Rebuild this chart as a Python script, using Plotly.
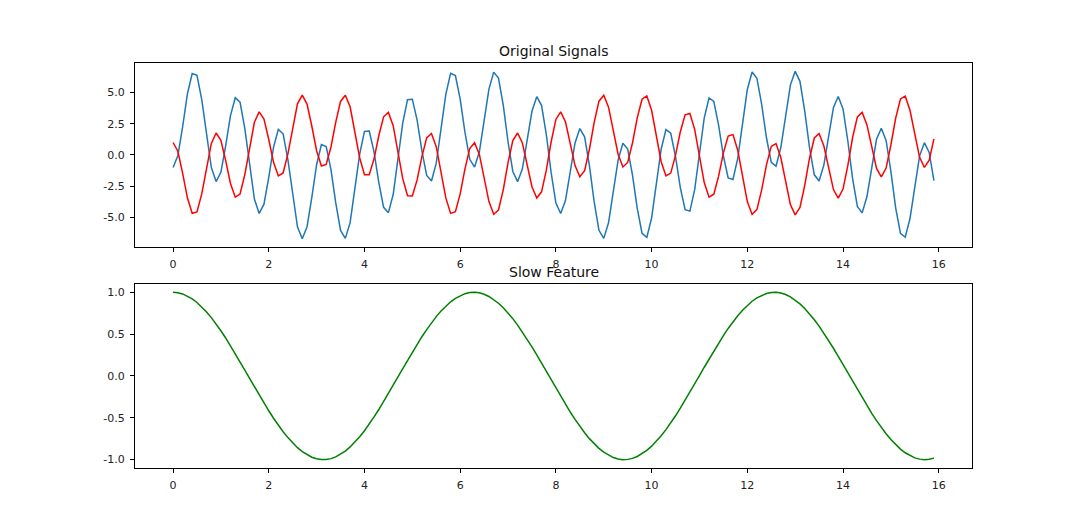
import plotly.graph_objects as go
from plotly.subplots import make_subplots

# sampling grid (time axis), 0.0 .. 15.9
t = [round(0.1 * i, 1) for i in range(160)]

signal_blue = [
    -1.00, -0.07, 2.26, 4.89, 6.53, 6.38, 4.44, 1.55, -1.01, -2.13,
    -1.39, 0.75, 3.16, 4.59, 4.23, 2.11, -0.90, -3.53, -4.68, -3.94,
    -1.80, 0.62, 2.05, 1.70, -0.37, -3.28, -5.76, -6.71, -5.75, -3.39,
    -0.78, 0.83, 0.68, -1.18, -3.84, -6.04, -6.68, -5.42, -2.79, 0.07,
    1.89, 1.92, 0.25, -2.21, -4.19, -4.62, -3.17, -0.38, 2.57, 4.43,
    4.47, 2.80, 0.33, -1.64, -2.08, -0.66, 2.05, 4.86, 6.54, 6.37,
    4.48, 1.81, -0.35, -0.97, 0.24, 2.72, 5.26, 6.64, 6.16, 3.99,
    1.06, -1.32, -2.14, -1.11, 1.17, 3.50, 4.67, 3.98, 1.64, -1.40,
    -3.85, -4.69, -3.65, -1.37, 0.96, 2.12, 1.46, -0.83, -3.76, -6.04,
    -6.68, -5.43, -2.94, -0.41, 0.94, 0.47, -1.60, -4.28, -6.27, -6.60,
    -5.05, -2.29, 0.48, 2.03, 1.74, -0.14, -2.61, -4.39, -4.50, -2.77,
    0.14, 2.98, 4.57, 4.29, 2.40, -0.07, -1.84, -1.96, -0.27, 2.55,
    5.25, 6.65, 6.15, 4.05, 1.38, -0.58, -0.89, 0.60, 3.18, 5.60,
    6.70, 5.90, 3.51, 0.59, -1.59, -2.09, -0.79, 1.59, 3.81, 4.69,
    3.69, 1.14, -1.89, -4.12, -4.64, -3.33, -0.95, 1.26, 2.14, 1.17,
    -1.31, -4.23, -6.28, -6.59, -5.07, -2.48, -0.07, 0.99, 0.21, -2.05,
]

signal_red = [
    1.00, 0.30, -1.45, -3.43, -4.67, -4.56, -3.12, -0.97, 0.93, 1.76,
    1.18, -0.45, -2.28, -3.38, -3.13, -1.57, 0.67, 2.62, 3.45, 2.88,
    1.24, -0.59, -1.68, -1.44, 0.09, 2.26, 4.10, 4.80, 4.08, 2.30,
    0.34, -0.88, -0.76, 0.64, 2.64, 4.29, 4.79, 3.86, 1.89, -0.23,
    -1.58, -1.58, -0.31, 1.56, 3.06, 3.41, 2.35, 0.29, -1.90, -3.27,
    -3.28, -2.00, -0.13, 1.37, 1.72, 0.67, -1.34, -3.44, -4.68, -4.54,
    -3.12, -1.11, 0.51, 0.98, 0.07, -1.79, -3.71, -4.75, -4.41, -2.79,
    -0.61, 1.16, 1.76, 0.96, -0.77, -2.54, -3.44, -2.95, -1.22, 1.04,
    2.85, 3.45, 2.66, 0.92, -0.85, -1.74, -1.26, 0.44, 2.62, 4.31,
    4.78, 3.83, 1.96, 0.06, -0.96, -0.60, 0.96, 2.97, 4.47, 4.73,
    3.58, 1.52, -0.54, -1.68, -1.45, -0.01, 1.86, 3.22, 3.33, 2.05,
    -0.10, -2.21, -3.38, -3.14, -1.70, 0.17, 1.52, 1.63, 0.38, -1.72,
    -3.73, -4.76, -4.38, -2.80, -0.79, 0.69, 0.92, -0.20, -2.14, -3.97,
    -4.80, -4.21, -2.43, -0.26, 1.36, 1.72, 0.72, -1.09, -2.77, -3.46,
    -2.73, -0.85, 1.40, 3.05, 3.41, 2.41, 0.60, -1.08, -1.76, -1.05,
    0.80, 2.96, 4.49, 4.71, 3.56, 1.61, -0.19, -1.00, -0.41, 1.29,
]

slow_feature = [
    1.000, 0.995, 0.980, 0.955, 0.921, 0.878, 0.825, 0.765, 0.697, 0.622,
    0.540, 0.454, 0.362, 0.267, 0.170, 0.071, -0.029, -0.129, -0.227, -0.323,
    -0.416, -0.505, -0.589, -0.666, -0.737, -0.801, -0.857, -0.904, -0.942, -0.971,
    -0.990, -0.999, -0.998, -0.988, -0.967, -0.937, -0.897, -0.848, -0.791, -0.726,
    -0.654, -0.575, -0.490, -0.401, -0.307, -0.211, -0.112, -0.012, 0.087, 0.187,
    0.284, 0.378, 0.469, 0.554, 0.635, 0.709, 0.776, 0.835, 0.886, 0.927,
    0.960, 0.983, 0.997, 1.000, 0.993, 0.977, 0.950, 0.914, 0.869, 0.816,
    0.754, 0.685, 0.608, 0.526, 0.439, 0.347, 0.251, 0.153, 0.054, -0.046,
    -0.146, -0.244, -0.339, -0.431, -0.519, -0.602, -0.679, -0.749, -0.811, -0.865,
    -0.911, -0.948, -0.975, -0.992, -1.000, -0.997, -0.985, -0.962, -0.930, -0.889,
    -0.839, -0.781, -0.714, -0.641, -0.561, -0.476, -0.385, -0.291, -0.195, -0.096,
    0.004, 0.104, 0.203, 0.300, 0.394, 0.483, 0.568, 0.648, 0.720, 0.786,
    0.844, 0.893, 0.934, 0.965, 0.986, 0.998, 0.999, 0.991, 0.973, 0.945,
    0.907, 0.861, 0.806, 0.743, 0.672, 0.595, 0.512, 0.423, 0.331, 0.235,
    0.137, 0.037, -0.063, -0.162, -0.260, -0.355, -0.447, -0.534, -0.615, -0.691,
    -0.760, -0.821, -0.874, -0.918, -0.953, -0.979, -0.994, -1.000, -0.996, -0.982,
]

titles = ["Original Signals", "Slow Feature"]
x_ticks = [0, 2, 4, 6, 8, 10, 12, 14, 16]
top_y_ticks = [-5.0, -2.5, 0.0, 2.5, 5.0]
bottom_y_ticks = [-1.0, -0.5, 0.0, 0.5, 1.0]

FONT = "DejaVu Sans"


def padded(lo, hi, frac=0.05):
    d = (hi - lo) * frac
    return [lo - d, hi + d]


fig = make_subplots(rows=2, cols=1, vertical_spacing=0.0909)

fig.add_trace(go.Scatter(x=t, y=signal_blue, mode="lines",
                         line=dict(color="#1f77b4", width=1.5),
                         showlegend=False), row=1, col=1)
fig.add_trace(go.Scatter(x=t, y=signal_red, mode="lines",
                         line=dict(color="#ff0000", width=1.5),
                         showlegend=False), row=1, col=1)
fig.add_trace(go.Scatter(x=t, y=slow_feature, mode="lines",
                         line=dict(color="#008000", width=1.5),
                         showlegend=False), row=2, col=1)

xr = padded(min(t), max(t))
top_lo = min(min(signal_blue), min(signal_red))
top_hi = max(max(signal_blue), max(signal_red))
yr_top = padded(top_lo, top_hi)
yr_bot = padded(min(slow_feature), max(slow_feature))

axis_common = dict(showline=True, mirror=True, linecolor="black", linewidth=1,
                   ticks="outside", ticklen=4, tickwidth=1, tickcolor="black",
                   showgrid=False, zeroline=False, ticklabelstandoff=3,
                   tickfont=dict(family=FONT, size=11, color="#222222"))

for r in (1, 2):
    fig.update_xaxes(range=xr, tickmode="array", tickvals=x_ticks,
                     ticktext=[str(v) for v in x_ticks], row=r, col=1, **axis_common)

fig.update_yaxes(range=yr_top, tickmode="array", tickvals=top_y_ticks,
                 ticktext=[f"{v:.1f}" for v in top_y_ticks], row=1, col=1, **axis_common)
fig.update_yaxes(range=yr_bot, tickmode="array", tickvals=bottom_y_ticks,
                 ticktext=[f"{v:.1f}" for v in bottom_y_ticks], row=2, col=1, **axis_common)

# subplot titles
dom1 = fig.layout.yaxis.domain
dom2 = fig.layout.yaxis2.domain
for title, dom in zip(titles, (dom1, dom2)):
    fig.add_annotation(text=title, xref="paper", yref="paper", x=0.5, y=dom[1],
                       xanchor="center", yanchor="bottom", yshift=2, showarrow=False,
                       font=dict(family=FONT, size=14, color="#111111"))

fig.update_layout(width=1080, height=526,
                  margin=dict(l=135, r=108, t=63, b=58),
                  paper_bgcolor="white", plot_bgcolor="white",
                  font=dict(family=FONT, size=11, color="black"))

fig.write_html("out.html")
